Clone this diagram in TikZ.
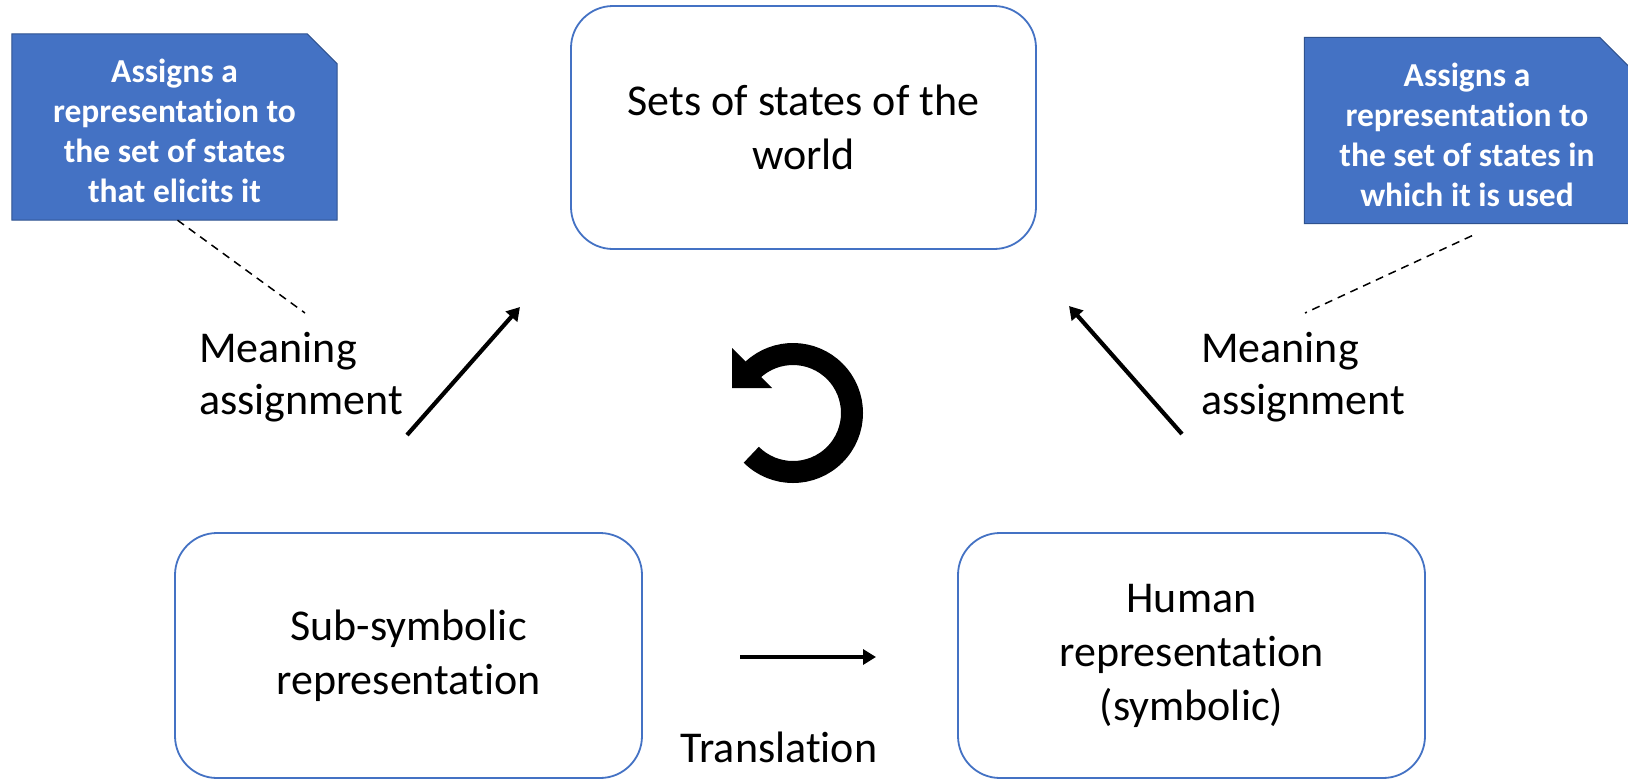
\documentclass[tikz,border=0pt]{standalone}
\usepackage{fontspec}
\setmainfont{Carlito}[Ligatures=NoCommon]
\usetikzlibrary{arrows.meta,calc}
\definecolor{officeblue}{HTML}{4472C4}
\definecolor{calloutedge}{HTML}{2F528F}

\begin{document}
\begin{tikzpicture}[x=1pt,y=-1pt,
  statebox/.style={draw=officeblue, line width=1.8pt, rounded corners=42pt,
    align=center, inner sep=0pt, font=\fontsize{44}{54}\selectfont},
  calloutbox/.style={minimum width=325pt, minimum height=186pt, inner sep=0pt,
    align=center, text=white, font=\bfseries\fontsize{33.5}{40}\selectfont},
  calloutshape/.style={fill=officeblue, draw=calloutedge, line width=1pt},
  flowarrow/.style={line width=4.2pt, -{Triangle[length=13pt,width=15pt]}},
  leader/.style={line width=1.5pt, dash pattern=on 8pt off 6pt},
  plainlabel/.style={inner sep=0pt, font=\fontsize{44}{52}\selectfont}]
\useasboundingbox (0,0) rectangle (1628,780);
\fill[white] (0,0) rectangle (1628,780);

% the three stages
\node[statebox, minimum width=465pt, minimum height=243pt] (world) at (803.5,127.5)
  {Sets of states of the\\world};
\node[statebox, minimum width=467pt, minimum height=245pt] (subsym) at (408.5,655.5)
  {Sub-symbolic\\representation};
\node[statebox, minimum width=467pt, minimum height=245pt] (human) at (1191.5,655.5)
  {Human\\representation\\(symbolic)};

% callouts with a cut top-right corner
\node[calloutbox] (callL) at (174.5,127) {};
\path[calloutshape] (callL.north west) -- ([xshift=-30pt]callL.north east)
  -- ([yshift=-30pt]callL.north east) -- (callL.south east) -- (callL.south west) -- cycle;
\node[calloutbox] at ([yshift=-4pt]callL.center) {Assigns a\\representation to\\the set of states\\that elicits it};

\node[calloutbox] (callR) at (1467,130.5) {};
\path[calloutshape] (callR.north west) -- ([xshift=-30pt]callR.north east)
  -- ([yshift=-30pt]callR.north east) -- (callR.south east) -- (callR.south west) -- cycle;
\node[calloutbox] at ([yshift=-4pt]callR.center) {Assigns a\\representation to\\the set of states in\\which it is used};

% meaning-assignment arrows
\coordinate (mlA) at (407,435);
\coordinate (mlB) at (520,307);
\coordinate (mrA) at (1182,434);
\coordinate (mrB) at (1069,306);
\draw[flowarrow] (mlA) -- (mlB);
\draw[flowarrow] (mrA) -- (mrB);

\node[plainlabel, anchor=west, align=left] (labL) at (199,377) {Meaning\\assignment};
\node[plainlabel, anchor=west, align=left] (labR) at (1201,377) {Meaning\\assignment};

% leader lines from the callouts
\coordinate (ldL) at (305,313);
\coordinate (ldR) at (1305,313);
\draw[leader] ([xshift=3pt]callL.south) -- (ldL);
\draw[leader] ([xshift=5pt,yshift=-12pt]callR.south) -- (ldR);

% translation arrow
\coordinate (trA) at (740,657);
\coordinate (trB) at (876,657);
\draw[flowarrow] (trA) -- (trB);
\node[plainlabel] (trans) at (779,747) {Translation};

% cycle symbol in the middle
\coordinate (cyc) at (793,413);
\draw[line width=22pt] ($(cyc)+(135:59)$) arc[start angle=135, end angle=-133, radius=59];
\fill (732,348) -- (772,388) -- (732,388) -- cycle;
\end{tikzpicture}
\end{document}
